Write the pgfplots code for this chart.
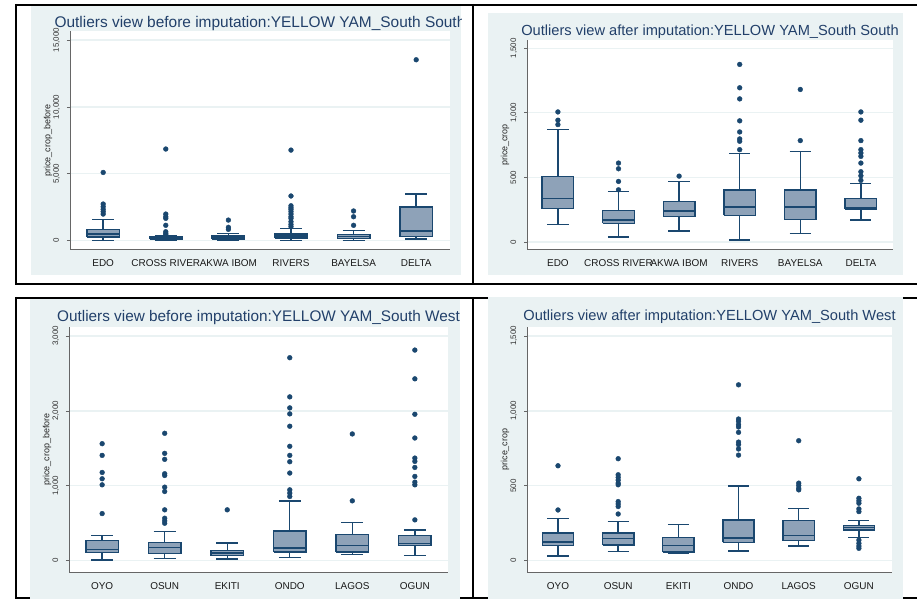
\documentclass[border=0pt]{standalone}
\usepackage{fontspec}
\setmainfont{Liberation Sans}
\usepackage{pgfplots}
\pgfplotsset{compat=1.18}
\definecolor{navyc}{HTML}{1A476F}
\definecolor{boxc}{HTML}{8EA2B8}
\definecolor{bgc}{HTML}{EAF2F3}
\definecolor{titc}{HTML}{22406A}
\definecolor{axc}{HTML}{666666}
\pgfplotsset{
 stata/.style={
  scale only axis, anchor=south west,
  axis lines*=left,
  axis line style={draw=axc, line width=1bp},
  axis background/.style={fill=white},
  ymajorgrids, grid style={draw=bgc, line width=1.3bp},
  tick align=outside, major tick length=3bp,
  ytick style={draw=axc, line width=0.7bp},
  xtick style={draw=none},
  xtick={1,2,3,4,5,6},
  scaled y ticks=false,
  unbounded coords=jump,
  yticklabel={\pgfmathprintnumber[fixed,1000 sep={,},assume math mode=true]{\tick}},
  yticklabel style={inner sep=0pt, xshift=-8bp, rotate=90, anchor=base, font=\fontsize{8}{9}\selectfont, text=black!80},
  xticklabel style={inner sep=0pt, anchor=base, yshift=-14bp, font=\fontsize{10}{11}\selectfont, text=black!90},
  every axis y label/.style={at={(axis description cs:0,0.5)}, xshift=-22bp, rotate=90, anchor=center, font=\fontsize{9}{10}\selectfont, text=black!85},
  every axis title/.style={at={(axis description cs:0.5,1)}, anchor=base, text=titc},
 },
 boxes/.style={draw=navyc, fill=boxc, line width=1.4bp, solid, mark=none},
 lns/.style={draw=navyc, line width=1.4bp, solid, mark=none},
 outl/.style={only marks, mark=*, mark size=2.4bp, color=navyc, mark options={draw=navyc, fill=navyc, solid}},
}
\begin{document}
\begin{tikzpicture}
\path[use as bounding box, fill=white] (0bp,0bp) rectangle (917bp,599bp);
% table frame
\begin{scope}[line width=2bp]
\draw (16bp,594bp) -- (917bp,594bp);
\draw (16bp,315bp) -- (917bp,315bp);
\draw (16bp,301bp) -- (917bp,301bp);
\draw (16bp,1bp) -- (917bp,1bp);
\draw (16bp,595bp) -- (16bp,314bp);
\draw (16bp,302bp) -- (16bp,0bp);
\draw (473bp,595bp) -- (473bp,314bp);
\draw (473bp,302bp) -- (473bp,0bp);
\end{scope}
% graph backgrounds
\fill[bgc] (31bp,324bp) rectangle (461bp,593bp);
\fill[bgc] (488bp,324bp) rectangle (903bp,586bp);
\fill[bgc] (30bp,0bp) rectangle (460bp,300bp);
\fill[bgc] (488bp,0bp) rectangle (903bp,302bp);

% ---------- top left ----------
\begin{scope}
\clip (31bp,324bp) rectangle (461bp,593bp);
\begin{axis}[stata, at={(70bp,349bp)}, width=380bp, height=219bp,
  xmin=0.47, xmax=6.54, ymin=-695, ymax=15670, ytick={0,5000,10000,15000},
  xticklabels={EDO,CROSS RIVER,AKWA IBOM,RIVERS,BAYELSA,DELTA},
  ylabel={price\_crop\_before},
  title={Outliers view before imputation:YELLOW YAM\_South South},
  title style={yshift=3.7bp, font=\fontsize{15.5}{16}\selectfont}]
% whiskers (lower whisker to upper whisker)
\addplot[lns] coordinates {(1,25) (1,1570) (1,nan) (2,0) (2,370) (2,nan) (3,25) (3,520) (3,nan) (4,0) (4,920) (4,nan) (5,0) (5,770) (5,nan) (6,125) (6,3500)};
% whisker caps
\addplot[lns] coordinates {(0.825,25) (1.175,25) (1,nan) (0.825,1570) (1.175,1570) (1,nan)
 (1.825,0) (2.175,0) (2,nan) (1.825,370) (2.175,370) (2,nan)
 (2.825,25) (3.175,25) (3,nan) (2.825,520) (3.175,520) (3,nan)
 (3.825,0) (4.175,0) (4,nan) (3.825,920) (4.175,920) (4,nan)
 (4.825,0) (5.175,0) (5,nan) (4.825,770) (5.175,770) (5,nan)
 (5.825,125) (6.175,125) (6,nan) (5.825,3500) (6.175,3500)};
% boxes (lower quartile to upper quartile)
\addplot[boxes] coordinates {(0.74,270) (1.26,270) (1.26,820) (0.74,820) (0.74,270) (1,nan)
 (1.74,125) (2.26,125) (2.26,270) (1.74,270) (1.74,125) (2,nan)
 (2.74,125) (3.26,125) (3.26,400) (2.74,400) (2.74,125) (3,nan)
 (3.74,200) (4.26,200) (4.26,500) (3.74,500) (3.74,200) (4,nan)
 (4.74,150) (5.26,150) (5.26,450) (4.74,450) (4.74,150) (5,nan)
 (5.74,310) (6.26,310) (6.26,2530) (5.74,2530) (5.74,310)};
% medians
\addplot[lns] coordinates {(0.74,500) (1.26,500) (1,nan) (1.74,200) (2.26,200) (2,nan) (2.74,270) (3.26,270) (3,nan) (3.74,350) (4.26,350) (4,nan) (4.74,300) (5.26,300) (5,nan) (5.74,720) (6.26,720)};
\addplot[outl] coordinates {
(1,5100) (1,2740) (1,2540) (1,2340) (1,2170) (1,1990)
(2,6850) (2,1990) (2,1790) (2,1670) (2,1150) (2,670) (2,550) (2,450)
(3,1540) (3,1000) (3,850)
(4,6770) (4,3340) (4,2610) (4,2460) (4,2340) (4,2170) (4,1990) (4,1790) (4,1670) (4,1420) (4,1220) (4,1050)
(5,2220) (5,1790) (5,1150)
(6,13520)};
\end{axis}
\end{scope}

% ---------- top right ----------
\begin{scope}
\clip (488bp,324bp) rectangle (903bp,586bp);
\begin{axis}[stata, at={(527bp,349bp)}, width=366bp, height=210bp,
  xmin=0.49, xmax=6.53, ymin=-62, ymax=1564, ytick={0,500,1000,1500},
  xticklabels={EDO,CROSS RIVER,AKWA IBOM,RIVERS,BAYELSA,DELTA},
  ylabel={price\_crop},
  title={Outliers view after imputation:YELLOW YAM\_South South},
  title style={yshift=4bp, font=\fontsize{14.7}{16}\selectfont}]
\addplot[lns] coordinates {(1,137) (1,870) (1,nan) (2,39) (2,389) (2,nan) (3,85) (3,469) (3,nan) (4,16) (4,686) (4,nan) (5,67) (5,702) (5,nan) (6,171) (6,453)};
\addplot[lns] coordinates {(0.825,137) (1.175,137) (1,nan) (0.825,870) (1.175,870) (1,nan)
 (1.825,39) (2.175,39) (2,nan) (1.825,389) (2.175,389) (2,nan)
 (2.825,85) (3.175,85) (3,nan) (2.825,469) (3.175,469) (3,nan)
 (3.825,16) (4.175,16) (4,nan) (3.825,686) (4.175,686) (4,nan)
 (4.825,67) (5.175,67) (5,nan) (4.825,702) (5.175,702) (5,nan)
 (5.825,171) (6.175,171) (6,nan) (5.825,453) (6.175,453)};
\addplot[boxes] coordinates {(0.74,259) (1.26,259) (1.26,508) (0.74,508) (0.74,259) (1,nan)
 (1.74,145) (2.26,145) (2.26,243) (1.74,243) (1.74,145) (2,nan)
 (2.74,197) (3.26,197) (3.26,313) (2.74,313) (2.74,197) (3,nan)
 (3.74,207) (4.26,207) (4.26,404) (3.74,404) (3.74,207) (4,nan)
 (4.74,174) (5.26,174) (5.26,404) (4.74,404) (4.74,174) (5,nan)
 (5.74,254) (6.26,254) (6.26,339) (5.74,339) (5.74,254)};
\addplot[lns] coordinates {(0.74,339) (1.26,339) (1,nan) (1.74,171) (2.26,171) (2,nan) (2.74,241) (3.26,241) (3,nan) (3.74,272) (4.26,272) (4,nan) (4.74,272) (5.26,272) (5,nan) (5.74,262) (6.26,262)};
\addplot[outl] coordinates {
(1,1007) (1,943) (1,909)
(2,611) (2,567) (2,469) (2,404)
(3,510)
(4,1375) (4,1194) (4,1108) (4,938) (4,852) (4,798) (4,780) (4,715)
(5,1181) (5,785)
(6,1007) (6,943) (6,785) (6,715) (6,689) (6,663) (6,611) (6,544) (6,513) (6,477)};
\end{axis}
\end{scope}

% ---------- bottom left ----------
\begin{scope}
\clip (30bp,0bp) rectangle (460bp,300bp);
\begin{axis}[stata, at={(69bp,27bp)}, width=379bp, height=245bp,
  xmin=0.47, xmax=6.53, ymin=-151, ymax=3120, ytick={0,1000,2000,3000},
  xticklabels={OYO,OSUN,EKITI,ONDO,LAGOS,OGUN},
  ylabel={price\_crop\_before},
  title={Outliers view before imputation:YELLOW YAM\_South West},
  title style={yshift=5.3bp, font=\fontsize{15.4}{16}\selectfont}]
\addplot[lns] coordinates {(1,9) (1,335) (1,nan) (2,27) (2,393) (2,nan) (3,22) (3,237) (3,nan) (4,40) (4,795) (4,nan) (5,85) (5,509) (5,nan) (6,67) (6,411)};
\addplot[lns] coordinates {(0.825,9) (1.175,9) (1,nan) (0.825,335) (1.175,335) (1,nan)
 (1.825,27) (2.175,27) (2,nan) (1.825,393) (2.175,393) (2,nan)
 (2.825,22) (3.175,22) (3,nan) (2.825,237) (3.175,237) (3,nan)
 (3.825,40) (4.175,40) (4,nan) (3.825,795) (4.175,795) (4,nan)
 (4.825,85) (5.175,85) (5,nan) (4.825,509) (5.175,509) (5,nan)
 (5.825,67) (6.175,67) (6,nan) (5.825,411) (6.175,411)};
\addplot[boxes] coordinates {(0.74,107) (1.26,107) (1.26,272) (0.74,272) (0.74,107) (1,nan)
 (1.74,94) (2.26,94) (2.26,246) (1.74,246) (1.74,94) (2,nan)
 (2.74,67) (3.26,67) (3.26,138) (2.74,138) (2.74,67) (3,nan)
 (3.74,116) (4.26,116) (4.26,397) (3.74,397) (3.74,116) (4,nan)
 (4.74,116) (5.26,116) (5.26,348) (4.74,348) (4.74,116) (5,nan)
 (5.74,201) (6.26,201) (6.26,339) (5.74,339) (5.74,201)};
\addplot[lns] coordinates {(0.74,152) (1.26,152) (1,nan) (1.74,174) (2.26,174) (2,nan) (2.74,103) (3.26,103) (3,nan) (3.74,170) (4.26,170) (4,nan) (4.74,201) (5.26,201) (5,nan) (5.74,232) (6.26,232)};
\addplot[outl] coordinates {
(1,1562) (1,1406) (1,1178) (1,1094) (1,1013) (1,629)
(2,1701) (2,1433) (2,1353) (2,1161) (2,1138) (2,982) (2,924) (2,679) (2,567) (2,531) (2,500)
(3,679)
(4,2710) (4,2187) (4,2040) (4,1960) (4,1795) (4,1527) (4,1406) (4,1321) (4,1170) (4,946) (4,902) (4,857)
(5,1692) (5,799)
(6,2812) (6,2428) (6,1955) (6,1638) (6,1370) (6,1326) (6,1245) (6,1125) (6,1049) (6,1013) (6,545)};
\end{axis}
\end{scope}

% ---------- bottom right ----------
\begin{scope}
\clip (488bp,0bp) rectangle (903bp,302bp);
\begin{axis}[stata, at={(527bp,27bp)}, width=365bp, height=245bp,
  xmin=0.485, xmax=6.55, ymin=-75, ymax=1560, ytick={0,500,1000,1500},
  xticklabels={OYO,OSUN,EKITI,ONDO,LAGOS,OGUN},
  ylabel={price\_crop},
  title={Outliers view after imputation:YELLOW YAM\_South West},
  title style={yshift=6bp, font=\fontsize{14.7}{16}\selectfont}]
\addplot[lns] coordinates {(1,33) (1,283) (1,nan) (2,60) (2,261) (2,nan) (3,49) (3,243) (3,nan) (4,65) (4,500) (4,nan) (5,98) (5,348) (5,nan) (6,156) (6,268)};
\addplot[lns] coordinates {(0.825,33) (1.175,33) (1,nan) (0.825,283) (1.175,283) (1,nan)
 (1.825,60) (2.175,60) (2,nan) (1.825,261) (2.175,261) (2,nan)
 (2.825,49) (3.175,49) (3,nan) (2.825,243) (3.175,243) (3,nan)
 (3.825,65) (4.175,65) (4,nan) (3.825,500) (4.175,500) (4,nan)
 (4.825,98) (5.175,98) (5,nan) (4.825,348) (5.175,348) (5,nan)
 (5.825,156) (6.175,156) (6,nan) (5.825,268) (6.175,268)};
\addplot[boxes] coordinates {(0.74,100) (1.26,100) (1.26,185) (0.74,185) (0.74,100) (1,nan)
 (1.74,105) (2.26,105) (2.26,185) (1.74,185) (1.74,105) (2,nan)
 (2.74,58) (3.26,58) (3.26,156) (2.74,156) (2.74,58) (3,nan)
 (3.74,123) (4.26,123) (4.26,272) (3.74,272) (3.74,123) (4,nan)
 (4.74,134) (5.26,134) (5.26,270) (4.74,270) (4.74,134) (5,nan)
 (5.74,205) (6.26,205) (6.26,234) (5.74,234) (5.74,205)};
\addplot[lns] coordinates {(0.74,125) (1.26,125) (1,nan) (1.74,150) (2.26,150) (2,nan) (2.74,100) (3.26,100) (3,nan) (3.74,152) (4.26,152) (4,nan) (4.74,167) (5.26,167) (5,nan) (5.74,221) (6.26,221)};
\addplot[outl] coordinates {
(1,634) (1,339)
(2,681) (2,574) (2,556) (2,538) (2,518) (2,507) (2,395) (2,379) (2,362) (2,312)
(4,1174) (4,946) (4,931) (4,908) (4,893) (4,857) (4,792) (4,775) (4,746) (4,705)
(5,801) (5,518) (5,502) (5,484) (5,473)
(6,547) (6,417) (6,400) (6,384) (6,346) (6,328) (6,138) (6,116) (6,98) (6,83)};
\end{axis}
\end{scope}
\end{tikzpicture}
\end{document}
